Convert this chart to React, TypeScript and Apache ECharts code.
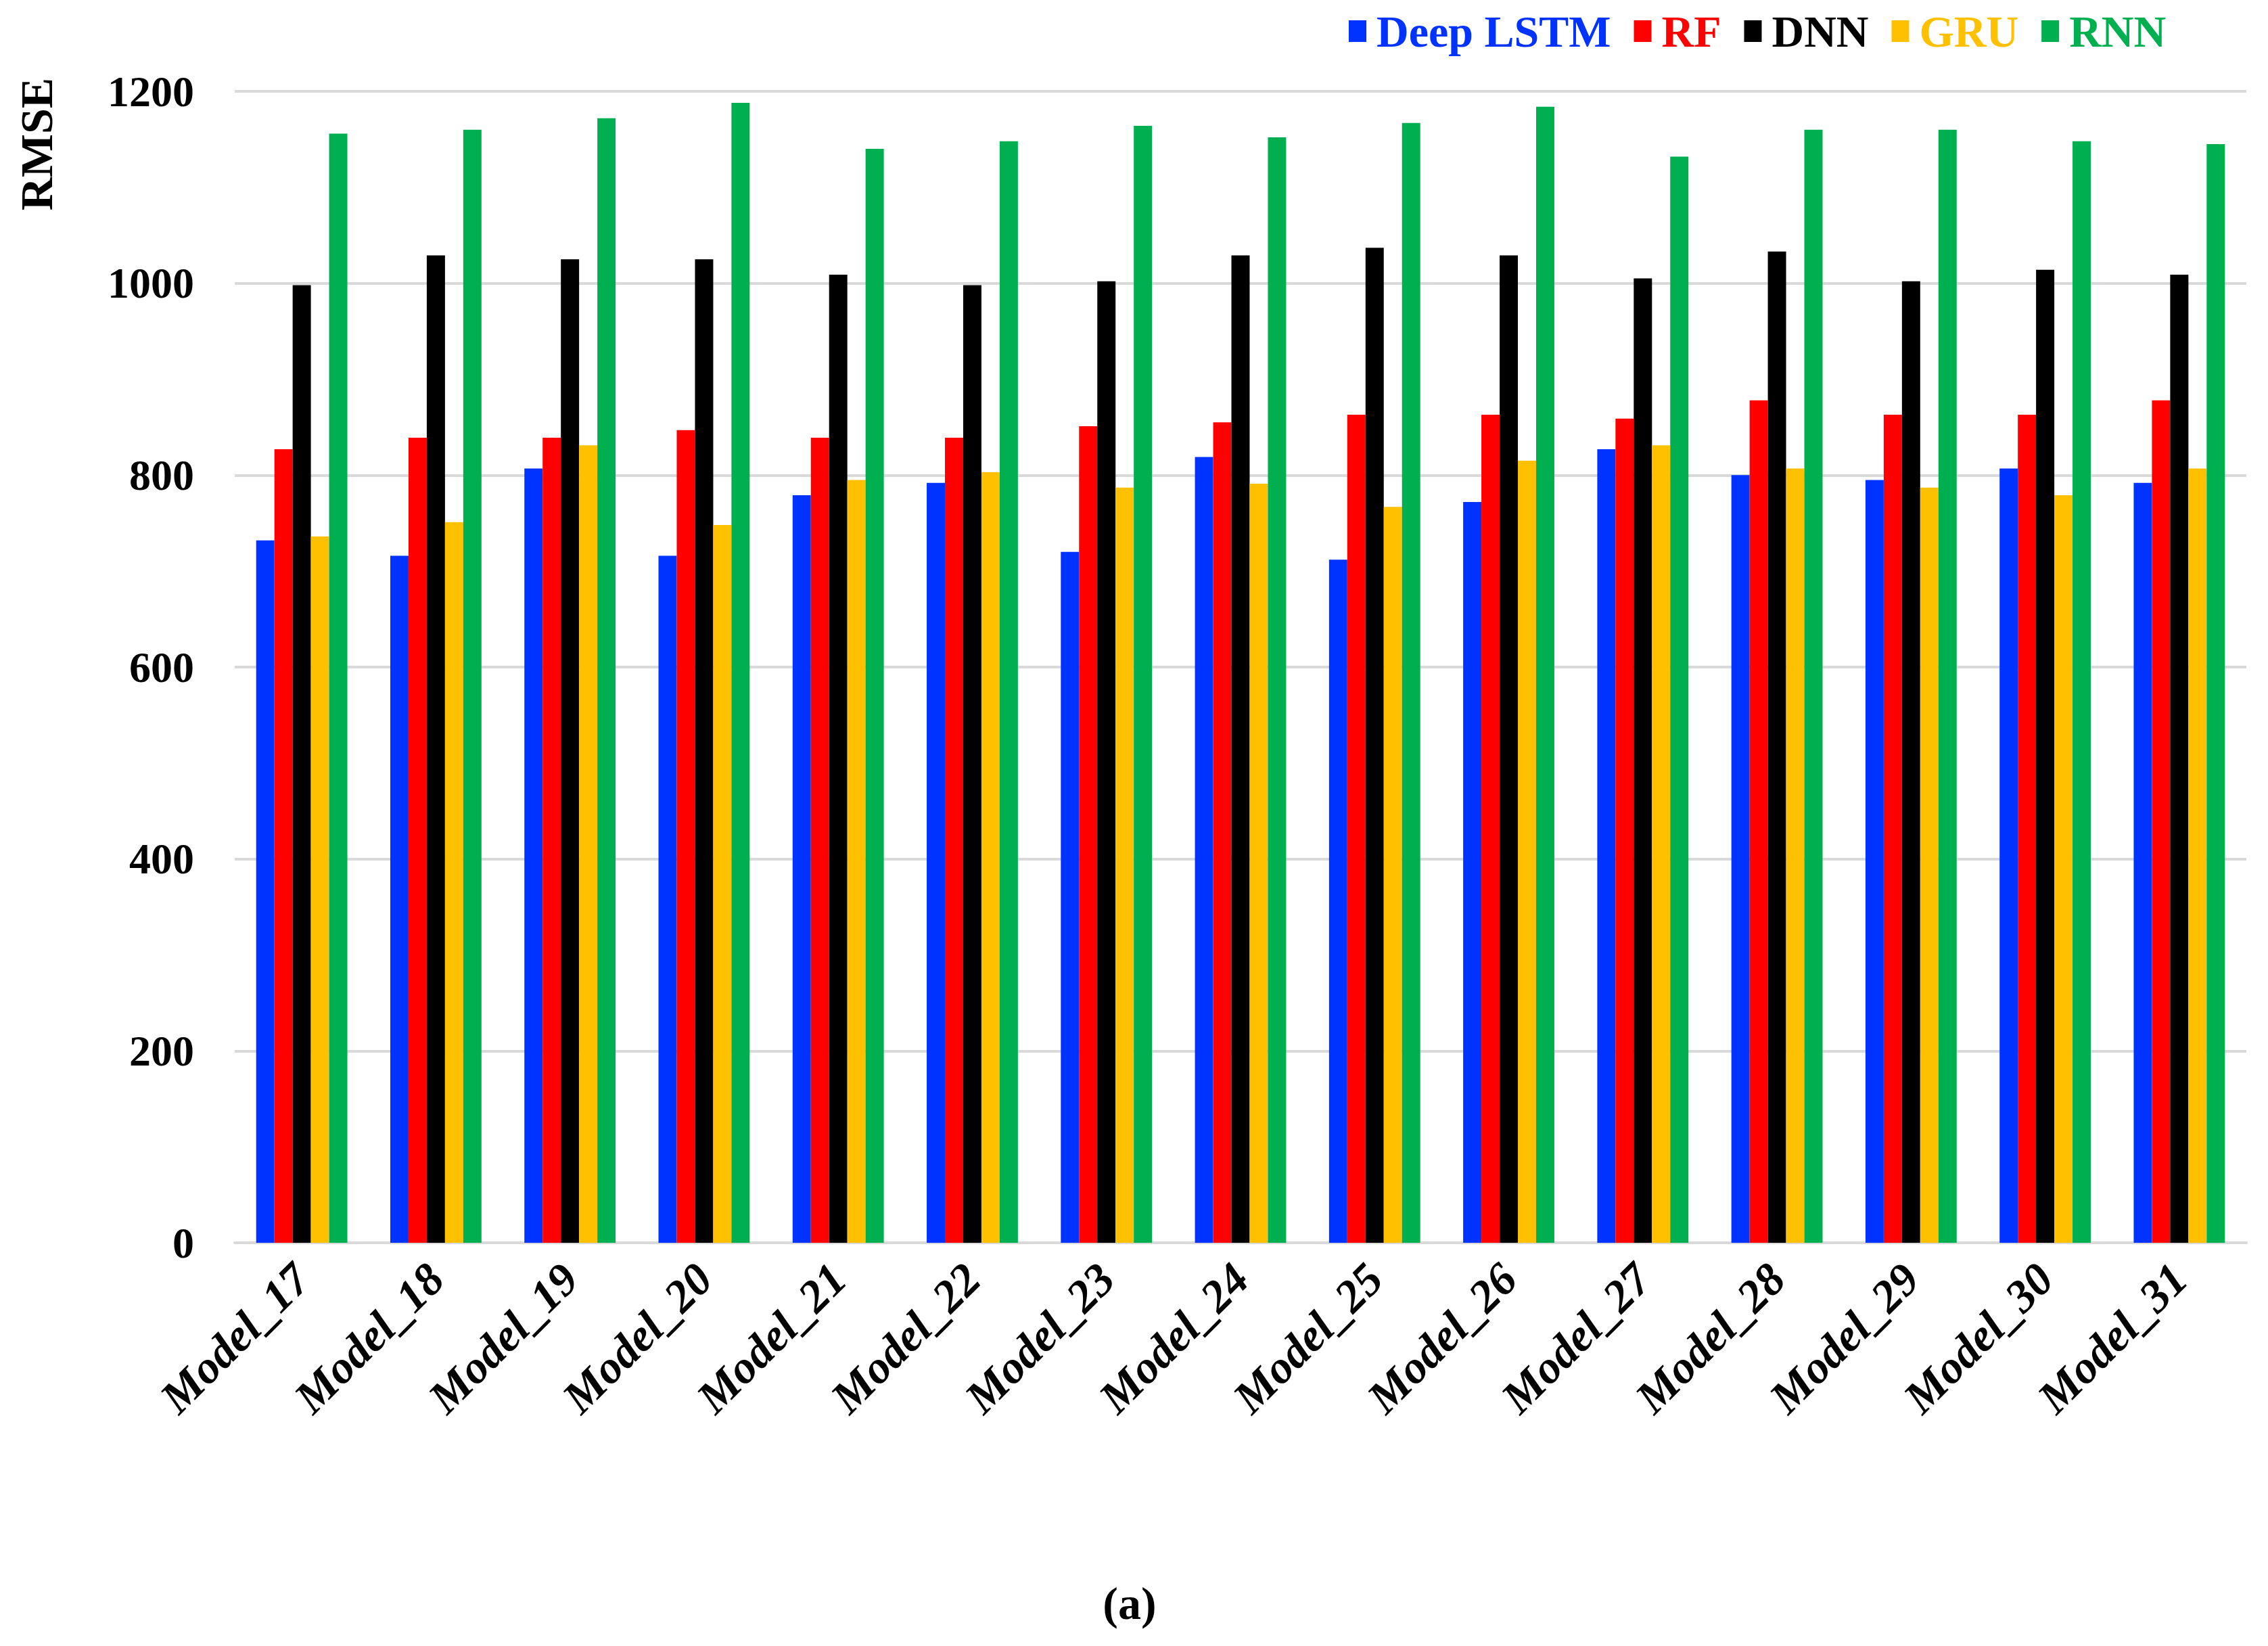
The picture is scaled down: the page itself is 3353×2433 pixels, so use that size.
import React, { useEffect, useRef } from "react";
import * as echarts from "echarts";

const categories = [
  "Model_17", "Model_18", "Model_19", "Model_20", "Model_21",
  "Model_22", "Model_23", "Model_24", "Model_25", "Model_26",
  "Model_27", "Model_28", "Model_29", "Model_30", "Model_31",
];
const deepLSTM = [732, 716, 807, 716, 779, 792, 720, 819, 712, 772, 827, 800, 795, 807, 792];
const rf = [827, 839, 839, 847, 839, 839, 851, 855, 863, 863, 859, 878, 863, 863, 878];
const dnn = [998, 1029, 1025, 1025, 1009, 998, 1002, 1029, 1037, 1029, 1005, 1033, 1002, 1014, 1009];
const gru = [736, 751, 831, 748, 795, 803, 787, 791, 767, 815, 831, 807, 787, 779, 807];
const rnn = [1156, 1160, 1172, 1188, 1140, 1148, 1164, 1152, 1167, 1184, 1132, 1160, 1160, 1148, 1145];

const seriesNames = ["Deep LSTM", "RF", "DNN", "GRU", "RNN"];
const seriesColors = ["#0033FF", "#FF0000", "#000000", "#FFC000", "#00B050"];
const seriesData = [deepLSTM, rf, dnn, gru, rnn];

const yMin = 0;
const yMax = 1200;
const yInterval = 200;

const SERIF = "'Liberation Serif', 'Times New Roman', serif";

export default function App() {
  const ref = useRef<HTMLDivElement>(null);
  useEffect(() => {
    if (!ref.current) return;
    const chart = echarts.init(ref.current, null, { renderer: "svg" });
    chart.setOption({
      animation: false,
      backgroundColor: "#ffffff",
      grid: { left: 347, right: 32, top: 135, bottom: 596, containLabel: false },
      legend: {
        left: 1989,
        top: 8,
        itemWidth: 26,
        itemHeight: 32,
        itemGap: 34,
        icon: "rect",
        textStyle: { fontFamily: SERIF, fontWeight: "bold", fontSize: 66, padding: [0, 0, 0, 10] },
        data: seriesNames.map((n, i) => ({ name: n, textStyle: { color: seriesColors[i] } })),
      },
      xAxis: {
        type: "category",
        data: categories,
        axisLine: { show: true, lineStyle: { color: "#d9d9d9", width: 4 } },
        axisTick: { show: false },
        axisLabel: {
          rotate: 45,
          margin: 42,
          interval: 0,
          fontFamily: SERIF,
          fontWeight: "bold",
          fontStyle: "italic",
          fontSize: 68,
          color: "#000000",
        },
      },
      yAxis: {
        type: "value",
        min: yMin,
        max: yMax,
        interval: yInterval,
        axisLine: { show: false },
        axisTick: { show: false },
        splitLine: { lineStyle: { color: "#d9d9d9", width: 4 } },
        axisLabel: {
          margin: 60,
          fontFamily: SERIF,
          fontWeight: "bold",
          fontSize: 64,
          color: "#000000",
          formatter: (v: number) => String(v),
        },
      },
      series: seriesNames.map((n, i) => ({
        name: n,
        type: "bar",
        data: seriesData[i],
        barGap: "0%",
        barCategoryGap: "32%",
        itemStyle: { color: seriesColors[i] },
      })),
      graphic: [
        {
          type: "text",
          x: 54,
          y: 213,
          rotation: Math.PI / 2,
          style: {
            text: "RMSE",
            fontFamily: SERIF,
            fontWeight: "bold",
            fontSize: 68,
            fill: "#000000",
            textAlign: "center",
            textVerticalAlign: "middle",
          },
        },
        {
          type: "text",
          x: 1670,
          y: 2370,
          style: {
            text: "(a)",
            fontFamily: SERIF,
            fontWeight: "bold",
            fontSize: 68,
            fill: "#000000",
            textAlign: "center",
            textVerticalAlign: "middle",
          },
        },
      ],
    });
    return () => chart.dispose();
  }, []);
  return (
    <div
      ref={ref}
      style={{ position: "absolute", left: 0, top: 0, width: 3353, height: 2433 }}
    />
  );
}
